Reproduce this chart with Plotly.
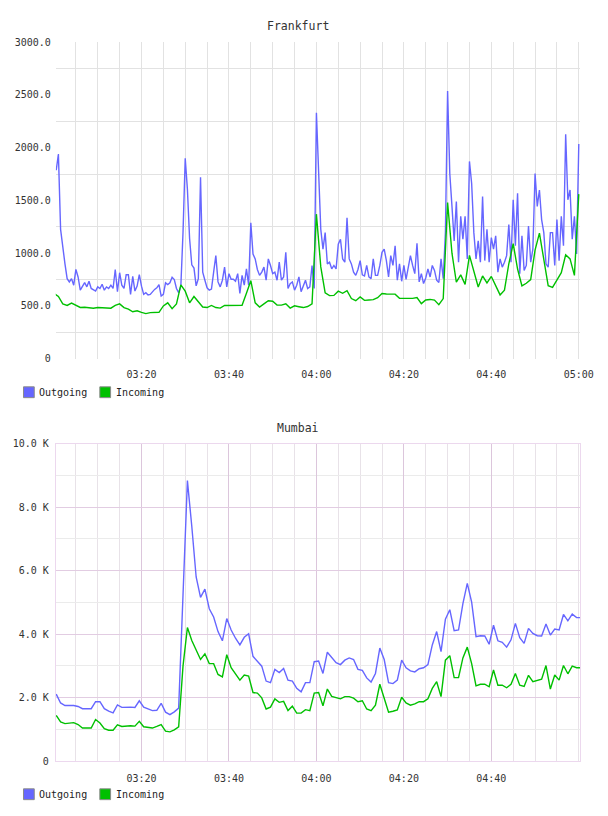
import pandas as pd
import plotly.graph_objects as go

# ---------------- data ----------------
frankfurt_outgoing = [
    1786, 1940, 1226, 1039, 899, 759, 728, 759, 697, 846,
    775, 650, 690, 722, 681, 734, 666, 650, 641, 681,
    666, 706, 650, 681, 666, 697, 666, 846, 635, 815,
    697, 666, 796, 796, 610, 781, 641, 688, 796, 688,
    610, 626, 604, 610, 635, 657, 672, 703, 594, 610,
    719, 703, 719, 772, 750, 666, 626, 688, 1201, 1900,
    1605, 1139, 890, 859, 691, 759, 1720, 821, 744, 672,
    650, 660, 821, 977, 728, 681, 744, 868, 681, 806,
    753, 753, 734, 806, 619, 790, 697, 852, 697, 1288,
    992, 946, 846, 790, 821, 868, 744, 946, 884, 806,
    821, 744, 915, 744, 775, 1008, 666, 712, 728, 650,
    697, 775, 635, 681, 744, 666, 681, 884, 666, 2331,
    1817, 1226, 1039, 1195, 899, 915, 852, 884, 852, 1086,
    1132, 946, 915, 1335, 946, 899, 821, 790, 846, 930,
    796, 784, 884, 775, 759, 946, 790, 790, 884, 1008,
    1039, 930, 775, 977, 884, 1070, 744, 899, 734, 884,
    753, 868, 977, 884, 806, 1095, 728, 806, 712, 765,
    852, 775, 884, 837, 744, 722, 946, 759, 1195, 2538,
    1755, 1444, 1117, 1490, 915, 1350, 1132, 1350, 946, 1870,
    1661, 1195, 946, 1117, 915, 1537, 930, 1226, 915, 1148,
    1039, 1164, 821, 946, 868, 915, 977, 1272, 915, 1506,
    1070, 1568, 806, 1164, 837, 884, 1257, 915, 1039, 1755,
    1444, 1599, 1319, 1195, 899, 868, 1195, 1195, 884, 1319,
    930, 1350, 1070, 2128, 1506, 1599, 1132, 1350, 992, 2035,
]

frankfurt_incoming = [
    620, 590, 520, 505, 528, 510, 486, 488, 480, 478,
    486, 482, 479, 479, 505, 520, 485, 470, 445, 455,
    440, 428, 437, 440, 440, 500, 530, 475, 520, 700,
    640, 530, 590, 540, 490, 485, 505, 485, 480, 505,
    507, 509, 510, 506, 620, 740, 530, 490, 520, 550,
    545, 508, 508, 520, 480, 502, 493, 485, 495, 520,
    1370, 870, 625, 598, 600, 640, 620, 645, 570, 550,
    585, 553, 557, 560, 578, 618, 613, 610, 612, 572,
    570, 567, 572, 580, 522, 557, 562, 556, 512, 570,
    1480, 1000, 725, 795, 705, 980, 830, 680, 785, 718,
    780, 690, 605, 650, 900, 1090, 850, 690, 715, 750,
    1030, 1190, 950, 692, 677, 745, 815, 985, 946, 790,
    1560,
]

mumbai_outgoing = [
    2110, 1830, 1750, 1750, 1750, 1720, 1650, 1650, 1650, 1870,
    1870, 1650, 1570, 1520, 1770, 1690, 1700, 1700, 1690, 1900,
    1700, 1650, 1590, 1600, 1820, 1540, 1460, 1550, 1670, 5250,
    8840, 7400, 5800, 5160, 5420, 4800, 4540, 4080, 3790, 4490,
    4130, 3870, 3660, 3900, 4010, 3300, 3150, 2990, 2520, 2470,
    2890, 2790, 2920, 2550, 2520, 2290, 2180, 2470, 2470, 3130,
    3150, 2760, 3430, 3250, 3100, 3040, 3180, 3250, 3200, 2890,
    2860, 2620, 2490, 2760, 3560, 3200, 2470, 2440, 2550, 3180,
    2940, 2840, 2810, 2910, 2940, 3040, 3660, 4080, 3450, 4470,
    4770, 4110, 4130, 4960, 5600, 5010, 3920, 3950, 3940, 3680,
    4280, 3790, 3740, 3590, 3820, 4340, 3890, 3710, 4180, 4020,
    3950, 3940, 4320, 3970, 4160, 4130, 4620, 4420, 4630, 4520,
    4520,
]

mumbai_incoming = [
    1440, 1230, 1180, 1190, 1210, 1150, 1040, 1040, 1040, 1310,
    1200, 1020, 970, 970, 1140, 1090, 1110, 1110, 1100, 1250,
    1080, 1060, 1040, 1090, 1150, 940, 920, 980, 1080, 3000,
    4210, 3800, 3500, 3200, 3380, 3070, 3070, 2730, 2650, 3350,
    2940, 2750, 2550, 2710, 2680, 2160, 2140, 1990, 1640, 1700,
    1960, 1850, 1880, 1590, 1730, 1510, 1510, 1620, 1590, 2140,
    2160, 1740, 2270, 2040, 2010, 1960, 2030, 2030, 1980, 1870,
    1900, 1640, 1590, 1760, 2420, 2010, 1540, 1570, 1610, 2010,
    1830, 1760, 1800, 1870, 1870, 1960, 2290, 2500, 2030, 3180,
    3320, 2630, 2630, 3250, 3590, 3070, 2370, 2420, 2420, 2340,
    2870, 2390, 2390, 2310, 2420, 2760, 2390, 2350, 2700, 2500,
    2530, 2580, 3010, 2270, 2710, 2550, 3010, 2750, 2990, 2940,
    2940,
]

day = "2013-05-14"
time_ticks_top = ["03:20", "03:40", "04:00", "04:20", "04:40", "05:00"]
time_ticks_bottom = ["03:20", "03:40", "04:00", "04:20", "04:40"]
frankfurt_yticks = [0, 500, 1000, 1500, 2000, 2500, 3000]
frankfurt_ylabels = ["0", "500.0", "1000.0", "1500.0", "2000.0", "2500.0", "3000.0"]
mumbai_yticks = [0, 2000, 4000, 6000, 8000, 10000]
mumbai_ylabels = ["0", "2.0 K", "4.0 K", "6.0 K", "8.0 K", "10.0 K"]
series_names = ["Outgoing", "Incoming"]
titles = ["Frankfurt", "Mumbai"]

# ---------------- styling ----------------
W, H = 608, 816
OUT_COLOR = "#6666ff"
IN_COLOR = "#00c000"
FONT = "DejaVu Sans Mono"
TXT = "#333333"

fra_out_t = pd.date_range(f"{day} 03:00:30", periods=len(frankfurt_outgoing), freq="30s")
fra_in_t = pd.date_range(f"{day} 03:00:00", periods=len(frankfurt_incoming), freq="60s")
mum_t = pd.date_range(f"{day} 03:00:30", periods=len(mumbai_outgoing), freq="60s")

xdom = [57 / W, 593 / W]
top_dom = [1 - 358 / H, 1 - 36.7 / H]
bot_dom = [1 - 766.3 / H, 1 - 444.3 / H]
xrange = [f"{day} 03:00:24", f"{day} 05:00:21"]

fig = go.Figure()
fig.add_trace(go.Scatter(x=fra_out_t, y=frankfurt_outgoing, mode="lines", name=series_names[0],
                         line=dict(color=OUT_COLOR, width=1.4), xaxis="x", yaxis="y", showlegend=False))
fig.add_trace(go.Scatter(x=fra_in_t, y=frankfurt_incoming, mode="lines", name=series_names[1],
                         line=dict(color=IN_COLOR, width=1.4), xaxis="x", yaxis="y", showlegend=False))
fig.add_trace(go.Scatter(x=mum_t, y=mumbai_outgoing, mode="lines", name=series_names[0],
                         line=dict(color=OUT_COLOR, width=1.4), xaxis="x2", yaxis="y2", showlegend=False))
fig.add_trace(go.Scatter(x=mum_t, y=mumbai_incoming, mode="lines", name=series_names[1],
                         line=dict(color=IN_COLOR, width=1.4), xaxis="x2", yaxis="y2", showlegend=False))

tickfont = dict(family=FONT, size=10, color=TXT)

def xaxis(anchor, ticks, grid, minor_grid, **kw):
    return dict(domain=xdom, anchor=anchor, type="date", range=xrange,
                tickmode="array", tickvals=[f"{day} {t}" for t in ticks], ticktext=ticks,
                showgrid=True, gridcolor=grid, gridwidth=1,
                minor=dict(tick0=f"{day} 03:00:00", dtick=300000, showgrid=True,
                           gridcolor=minor_grid, gridwidth=1, ticks=""),
                zeroline=False, ticks="", tickfont=tickfont, ticklabelstandoff=8, **kw)

fig.update_layout(
    width=W, height=H, margin=dict(l=0, r=0, t=0, b=0),
    paper_bgcolor="white", plot_bgcolor="white", showlegend=False,
    xaxis=xaxis("y", time_ticks_top, "#e2e2e2", "#e2e2e2", showline=False),
    yaxis=dict(domain=top_dom, anchor="x", range=[0, 3000], tickmode="array",
               tickvals=frankfurt_yticks, ticktext=frankfurt_ylabels, showgrid=False,
               minor=dict(tickmode="array", tickvals=[250, 750, 1250, 1750, 2250, 2750],
                          showgrid=True, gridcolor="#e2e2e2", gridwidth=1, ticks=""),
               zeroline=False, ticks="", tickfont=tickfont, ticklabelstandoff=4),
    xaxis2=xaxis("y2", time_ticks_bottom, "#dcc6dc", "#e8e2e8",
                 showline=True, mirror=True, linecolor="#ecd8ee", linewidth=1),
    yaxis2=dict(domain=bot_dom, anchor="x2", range=[0, 10000], tickmode="array",
                tickvals=mumbai_yticks, ticktext=mumbai_ylabels, showgrid=True,
                gridcolor="#e2cce2", gridwidth=1,
                minor=dict(tickmode="array", tickvals=[1000, 3000, 5000, 7000, 9000],
                           showgrid=True, gridcolor="#ebebeb", gridwidth=1, ticks=""),
                zeroline=False, ticks="", tickfont=tickfont, ticklabelstandoff=4,
                showline=True, mirror=True, linecolor="#ecd8ee", linewidth=1),
)

# titles
for title, ypx in zip(titles, [20.7, 428]):
    fig.add_annotation(text=title, xref="paper", yref="paper", x=304 / W, y=1 - ypx / H,
                       xanchor="center", yanchor="middle", showarrow=False,
                       font=dict(family=FONT, size=11.5, color=TXT))

# legends (square swatches + labels)
for cy in [392, 800]:
    for name, color, sx in zip(series_names, [OUT_COLOR, IN_COLOR], [24, 102]):
        fig.add_shape(type="rect", xref="paper", yref="paper",
                      x0=sx / W, x1=(sx + 11) / W, y0=1 - (cy + 5.5) / H, y1=1 - (cy - 5.5) / H,
                      fillcolor=color, line=dict(color="#8a8a8a", width=1))
        fig.add_annotation(text=name, xref="paper", yref="paper", x=(sx + 14) / W, y=1 - cy / H,
                           xanchor="left", yanchor="middle", showarrow=False,
                           font=dict(family=FONT, size=10, color="#222222"))

fig.write_html("out.html")
